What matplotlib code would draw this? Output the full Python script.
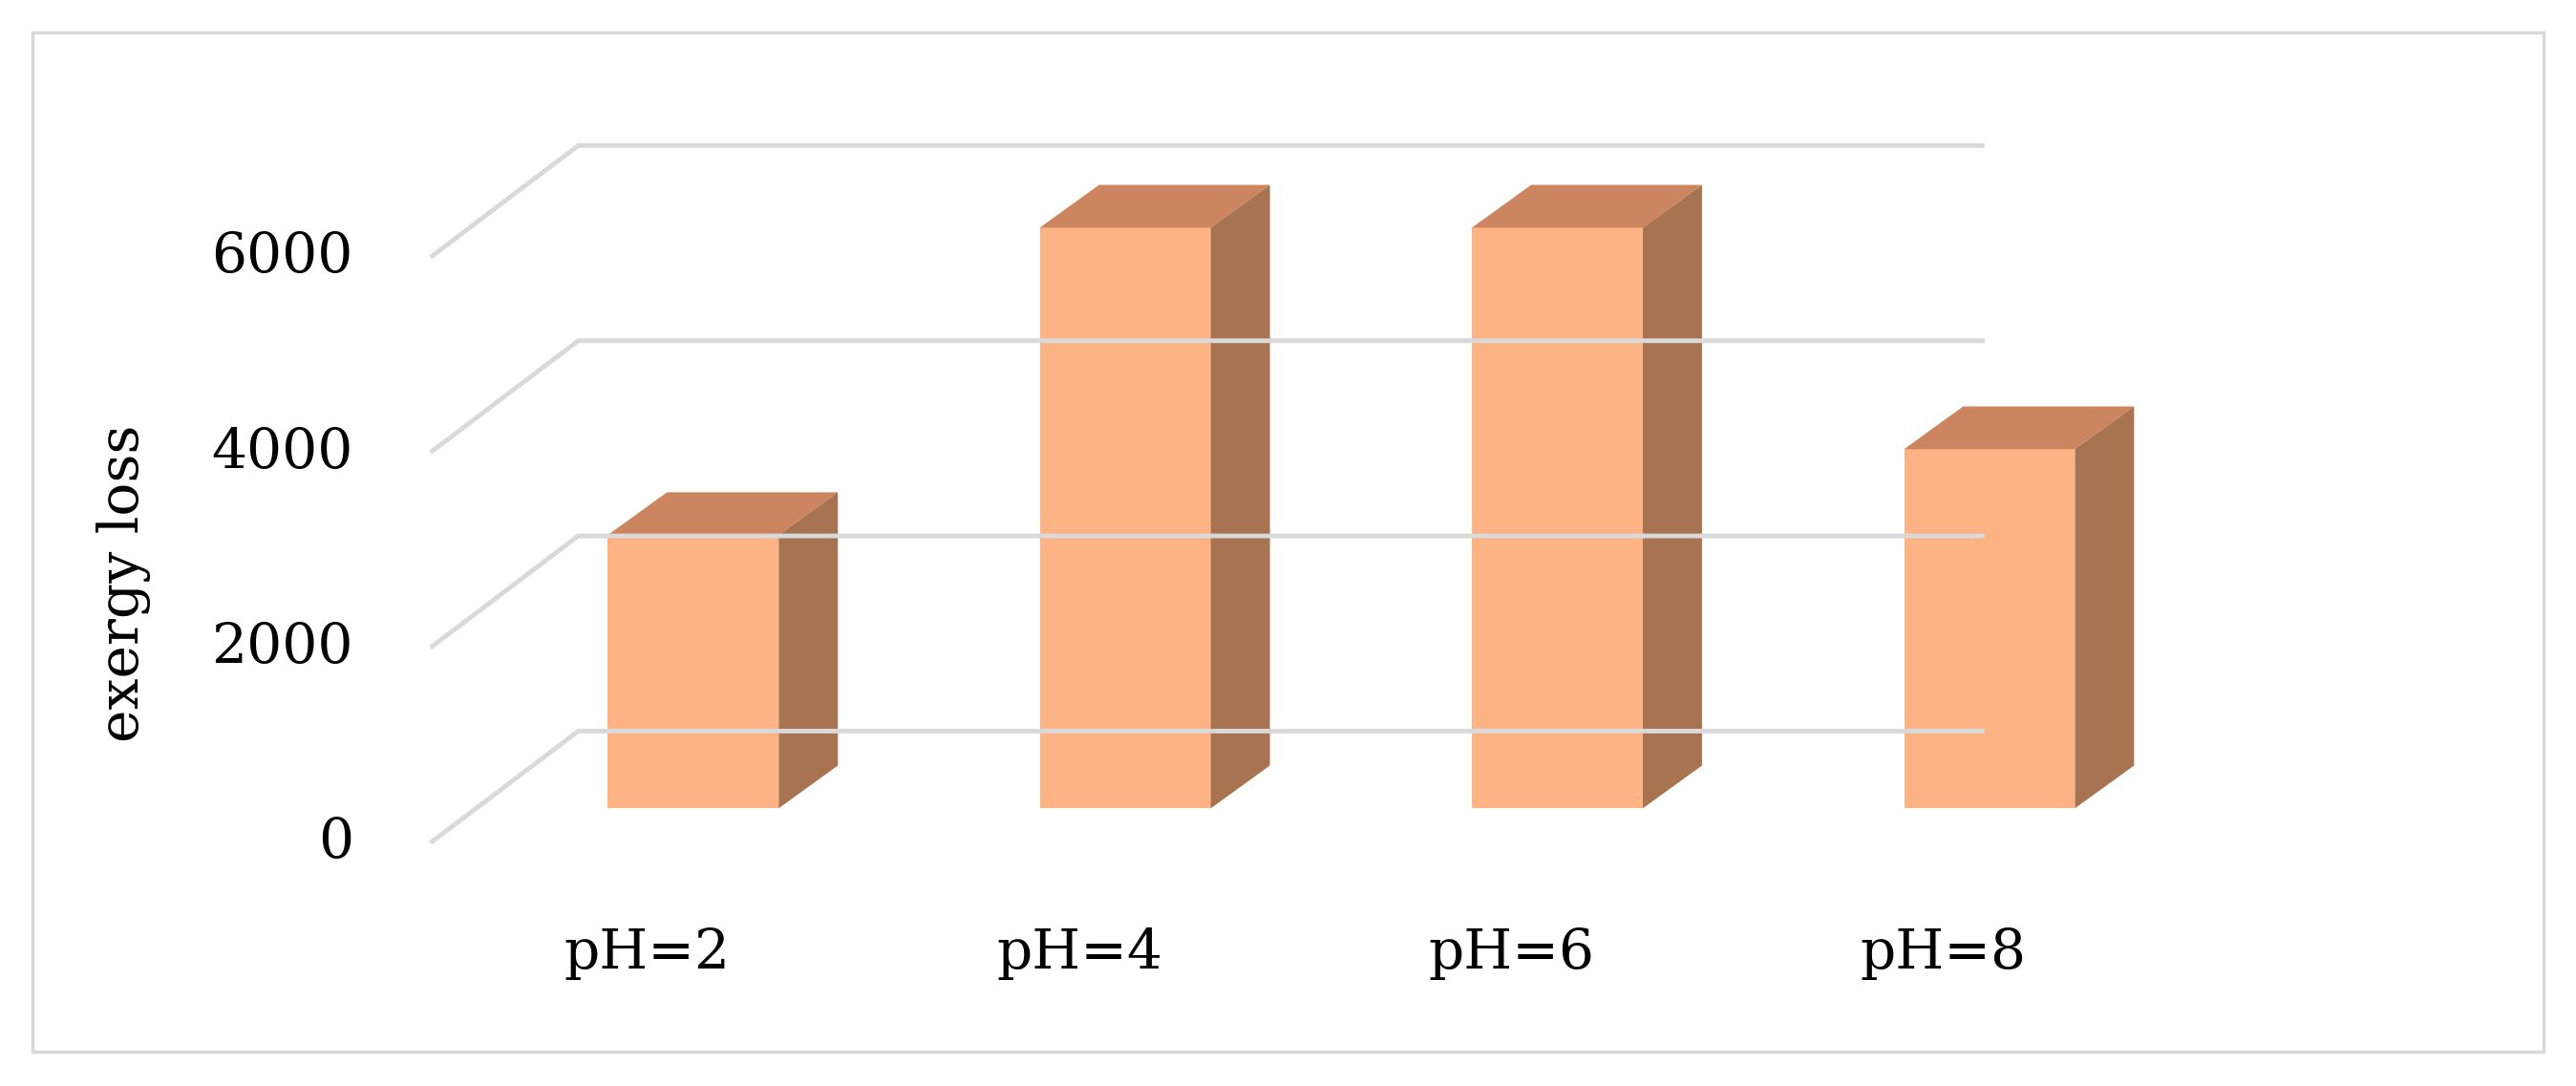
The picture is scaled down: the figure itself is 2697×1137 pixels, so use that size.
import matplotlib.pyplot as plt
from matplotlib.patches import Polygon, Rectangle

categories = ["pH=2", "pH=4", "pH=6", "pH=8"]
values = [2800, 5950, 5950, 3680]
ticks = [0, 2000, 4000, 6000]

# layout in reference pixels (x) and value units (y)
X0, XW = 262, 1208          # floor front-left x, back wall right x
DX, DY = 90, 1145           # wall depth offset
BX0, BSTEP, BW = 370, 263, 104
BOFF_X, BOFF_Y = 0, 354     # bar front offset from floor front
BDX, BDY = 36, 438          # bar depth

front, top, side = "#FDB383", "#CD8560", "#A87350"
grid = "#D9D9D9"

fig = plt.figure(figsize=(26.97, 11.37), dpi=100)
ax = fig.add_axes([0, 0, 1, 1])
ax.set_xlim(0, 1568)
ax.set_ylim(-(661 - 513) / 0.0594, 513 / 0.0594)
ax.axis("off")

# outer frame
ax.add_patch(Rectangle((20, -(640 - 513) / 0.0594), 1528, 620 / 0.0594,
                       fill=False, ec=grid, lw=2.5))

for t in ticks:
    ax.plot([X0, X0 + DX, XW], [t, t + DY, t + DY], color=grid, lw=3.5,
            solid_capstyle="butt")
    ax.text(215, t, str(t), ha="right", va="center", fontsize=42,
            family="DejaVu Serif")

for i, (c, v) in enumerate(zip(categories, values)):
    x = BX0 + i * BSTEP
    y = BOFF_Y
    ax.add_patch(Polygon([(x, y), (x + BW, y), (x + BW, y + v), (x, y + v)],
                         fc=front, ec="none"))
    ax.add_patch(Polygon([(x, y + v), (x + BW, y + v), (x + BW + BDX, y + v + BDY),
                          (x + BDX, y + v + BDY)], fc=top, ec="none"))
    ax.add_patch(Polygon([(x + BW, y), (x + BW + BDX, y + BDY),
                          (x + BW + BDX, y + v + BDY), (x + BW, y + v)],
                         fc=side, ec="none"))
    ax.text(x + BW / 2 - 28, (513 - 580) / 0.0594, c, ha="center", va="center",
            fontsize=42, family="DejaVu Serif")

ax.text(75, (513 - 355) / 0.0594, "exergy loss", rotation=90, ha="center",
        va="center", fontsize=42, family="DejaVu Serif")

fig.savefig("out.png", dpi=100)
